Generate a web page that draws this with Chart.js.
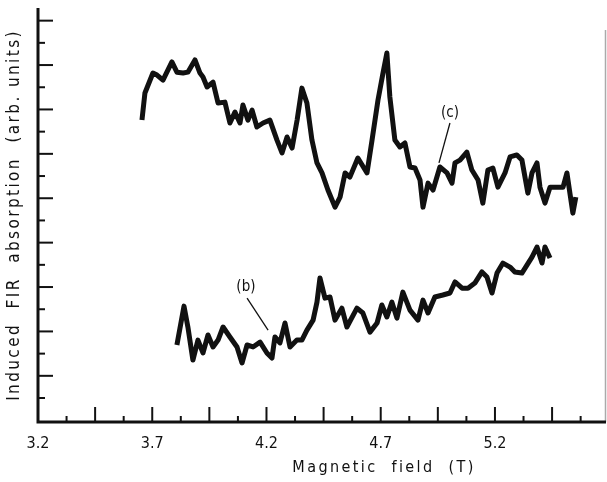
<!DOCTYPE html>
<html>
<head>
<meta charset="utf-8">
<script src="https://cdn.jsdelivr.net/npm/chart.js@4.4.0/dist/chart.umd.min.js"></script>
<style>
  html, body { margin: 0; padding: 0; background: #fff; }
  #wrap { width: 607px; height: 482px; }
</style>
</head>
<body>
<div id="wrap"><canvas id="fig"></canvas></div>
<script>
// curve (c): field in T, absorption in arb. units
var fieldC = [3.655, 3.668, 3.703, 3.721, 3.747, 3.786, 3.808, 3.835, 3.856, 3.887, 3.909, 3.922, 3.940, 3.966,
  3.988, 4.018, 4.040, 4.062, 4.084, 4.097, 4.119, 4.137, 4.158, 4.185, 4.215, 4.246, 4.268, 4.290, 4.312,
  4.334, 4.355, 4.377, 4.399, 4.421, 4.443, 4.469, 4.500, 4.522, 4.544, 4.565, 4.600, 4.640, 4.662, 4.688,
  4.710, 4.727, 4.740, 4.762, 4.784, 4.806, 4.828, 4.850, 4.872, 4.885, 4.907, 4.929, 4.959, 4.990, 5.012,
  5.025, 5.047, 5.077, 5.099, 5.126, 5.147, 5.169, 5.191, 5.213, 5.244, 5.266, 5.296, 5.318, 5.344, 5.362,
  5.384, 5.397, 5.419, 5.441, 5.471, 5.498, 5.515, 5.528, 5.541, 5.554];
var absC = [12.52, 13.74, 14.64, 14.55, 14.32, 15.14, 14.68, 14.64, 14.68, 15.23, 14.64, 14.46, 14.01, 14.23,
  13.29, 13.33, 12.39, 12.88, 12.39, 13.20, 12.52, 12.97, 12.21, 12.39, 12.52, 11.62, 11.04, 11.76, 11.26,
  12.52, 13.96, 13.29, 11.62, 10.59, 10.14, 9.37, 8.60, 9.05, 10.14, 9.95, 10.81, 10.14, 11.62, 13.42,
  14.64, 15.54, 13.56, 11.62, 11.31, 11.49, 10.41, 10.36, 9.82, 8.60, 9.68, 9.37, 10.41, 10.14, 9.68,
  10.59, 10.72, 11.08, 10.27, 9.82, 8.78, 10.27, 10.36, 9.50, 10.14, 10.86, 10.95, 10.72, 9.23, 10.14,
  10.59, 9.50, 8.78, 9.50, 9.50, 9.50, 10.14, 9.23, 8.33, 9.05];

// curve (b)
var fieldB = [3.808, 3.839, 3.856, 3.878, 3.900, 3.922, 3.944, 3.966, 3.988, 4.010, 4.040, 4.071, 4.093, 4.115,
  4.141, 4.172, 4.202, 4.224, 4.237, 4.259, 4.281, 4.303, 4.333, 4.355, 4.377, 4.404, 4.421, 4.434, 4.456,
  4.478, 4.500, 4.530, 4.552, 4.596, 4.622, 4.653, 4.684, 4.705, 4.727, 4.749, 4.771, 4.797, 4.828, 4.863,
  4.885, 4.907, 4.937, 4.972, 5.003, 5.025, 5.056, 5.082, 5.112, 5.143, 5.165, 5.187, 5.209, 5.235, 5.266,
  5.287, 5.318, 5.340, 5.362, 5.384, 5.406, 5.419, 5.441];
var absB = [2.39, 4.14, 3.20, 1.71, 2.61, 2.03, 2.84, 2.30, 2.61, 3.20, 2.75, 2.30, 1.58, 2.39,
  2.30, 2.52, 2.03, 1.80, 2.75, 2.48, 3.38, 2.30, 2.61, 2.61, 3.06, 3.51, 4.32, 5.41, 4.50,
  4.55, 3.51, 4.05, 3.20, 4.05, 3.83, 2.97, 3.38, 4.19, 3.65, 4.32, 3.60, 4.77, 3.96, 3.51,
  4.41, 3.83, 4.55, 4.64, 4.73, 5.23, 4.95, 4.95, 5.18, 5.68, 5.45, 4.73, 5.63, 6.08, 5.90,
  5.68, 5.63, 5.99, 6.35, 6.80, 6.08, 6.80, 6.31];

var xLabels = [3.2, 3.7, 4.2, 4.7, 5.2];
var xMin = 3.2, xMax = 5.686;
var yMin = -1.08, yMax = 17.57;

// curve labels and their leader lines, in data units
var curveNotes = [
  { text: '(c)', at: [5.003, 12.84], line: [[5.003, 12.39], [4.955, 10.59]] },
  { text: '(b)', at: [4.110, 5.0], line: [[4.115, 4.50], [4.207, 3.06]] }
];

function pts(xs, ys) {
  return xs.map(function (v, i) { return { x: v, y: ys[i] }; });
}

var FONT = '"DejaVu Sans Condensed", "DejaVu Sans", sans-serif';

var paperAxes = {
  id: 'paperAxes',
  afterDraw: function (chart) {
    var ctx = chart.ctx, a = chart.chartArea;
    var x = chart.scales.x, y = chart.scales.y;
    ctx.save();
    ctx.lineCap = 'butt';

    // faint right border
    ctx.strokeStyle = '#aaa';
    ctx.lineWidth = 1.5;
    ctx.beginPath();
    ctx.moveTo(a.right - 0.5, a.top + 22);
    ctx.lineTo(a.right - 0.5, a.bottom);
    ctx.stroke();

    // axes
    ctx.strokeStyle = '#111';
    ctx.lineWidth = 3;
    ctx.beginPath();
    ctx.moveTo(a.left, a.top);
    ctx.lineTo(a.left, a.bottom);
    ctx.lineTo(a.right, a.bottom);
    ctx.stroke();

    // x ticks, pointing up, every 0.125 T
    ctx.lineWidth = 2;
    for (var k = 1; k <= 19; k++) {
      var px = x.getPixelForValue(xMin + k * 0.125);
      if (px > a.right - 2) break;
      var len = (k % 2 === 0) ? 15 : 6;
      ctx.beginPath();
      ctx.moveTo(px, a.bottom);
      ctx.lineTo(px, a.bottom - len);
      ctx.stroke();
    }
    // y ticks, pointing right
    for (var n = 0; n <= 17; n++) {
      var py = y.getPixelForValue(n);
      var l = (n % 2 === 1) ? 15 : 7;
      ctx.beginPath();
      ctx.moveTo(a.left, py);
      ctx.lineTo(a.left + l, py);
      ctx.stroke();
    }

    // curve notes
    ctx.fillStyle = '#111';
    ctx.font = '15px ' + FONT;
    ctx.textAlign = 'center';
    ctx.textBaseline = 'middle';
    ctx.lineWidth = 1.3;
    curveNotes.forEach(function (c) {
      ctx.fillText(c.text, x.getPixelForValue(c.at[0]), y.getPixelForValue(c.at[1]));
      ctx.beginPath();
      ctx.moveTo(x.getPixelForValue(c.line[0][0]), y.getPixelForValue(c.line[0][1]));
      ctx.lineTo(x.getPixelForValue(c.line[1][0]), y.getPixelForValue(c.line[1][1]));
      ctx.stroke();
    });

    // axis titles, spaced out like the typeset original
    ctx.font = '16px ' + FONT;
    ctx.letterSpacing = '2.4px';
    ctx.fillText('Magnetic  field  (T)', 384, 468);
    ctx.translate(15, 215);
    ctx.rotate(-Math.PI / 2);
    ctx.font = '17px ' + FONT;
    ctx.letterSpacing = '2.4px';
    ctx.fillText('Induced  FIR  absorption  (arb. units)', 0, 0);
    ctx.restore();
  }
};

new Chart(document.getElementById('fig'), {
  type: 'line',
  data: {
    datasets: [
      { label: 'c', data: pts(fieldC, absC) },
      { label: 'b', data: pts(fieldB, absB) }
    ]
  },
  options: {
    responsive: true,
    maintainAspectRatio: false,
    animation: false,
    layout: { padding: { top: 8, right: 1, left: 0, bottom: 0 } },
    elements: {
      line: { borderColor: '#111', borderWidth: 5, tension: 0, borderJoinStyle: 'round', fill: false },
      point: { radius: 0 }
    },
    plugins: { legend: { display: false }, tooltip: { enabled: false } },
    scales: {
      x: {
        type: 'linear', min: xMin, max: xMax,
        grid: { display: false, drawTicks: false },
        border: { display: false },
        afterBuildTicks: function (s) { s.ticks = xLabels.map(function (v) { return { value: v }; }); },
        afterFit: function (s) { s.height = 60; },
        ticks: {
          padding: 12, maxRotation: 0, autoSkip: false,
          color: '#111', font: { family: FONT, size: 16 },
          callback: function (v) { return v.toFixed(1); }
        }
      },
      y: {
        type: 'linear', min: yMin, max: yMax,
        grid: { display: false, drawTicks: false },
        border: { display: false },
        ticks: { display: false },
        afterFit: function (s) { s.width = 38; }
      }
    }
  },
  plugins: [paperAxes]
});
</script>
</body>
</html>
